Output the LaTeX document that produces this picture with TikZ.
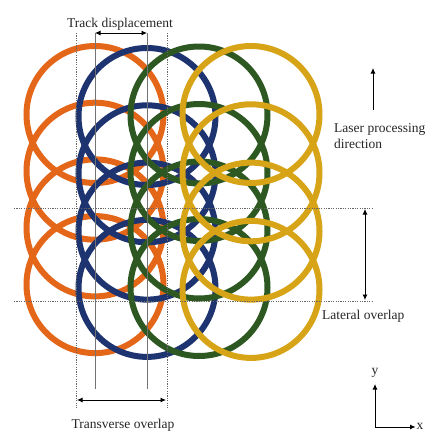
\documentclass[tikz,border=0pt]{standalone}
\usepackage{fontspec}
\setmainfont{Liberation Serif}
\usetikzlibrary{arrows.meta, positioning, calc}
\definecolor{trorange}{RGB}{228,102,24}
\definecolor{trblue}{RGB}{30,52,112}
\definecolor{trgreen}{RGB}{46,88,34}
\definecolor{tryellow}{RGB}{214,164,22}

\begin{document}
\begin{tikzpicture}[x=1pt, y=-1pt,
  track/.style={line width=6pt},
  guide/.style={black!55, line width=0.5pt},
  dotguide/.style={black!60, line width=0.6pt, dash pattern=on 1.2pt off 1.2pt},
  dim/.style={{Latex[length=5.5pt,width=5pt]}-{Latex[length=5.5pt,width=5pt]}, line width=0.8pt},
  arr/.style={-{Latex[length=5.5pt,width=5pt]}, line width=0.8pt},
  lbl/.style={font=\fontsize{13.5}{16}\selectfont, inner sep=0pt, text=black!85}
]
\fill[white] (0,0) rectangle (424,434);
\useasboundingbox (0,0) rectangle (424,434);

% tracks, four spots each
\foreach \col/\cx/\cy/\dy in {trorange/95/114.5/56.7, trblue/147/116.5/57.3, trgreen/199/115/57.5, tryellow/251/114.5/58.3}
  \foreach \r in {0,...,3}
    \draw[track, draw=\col] (\cx,{\cy+\r*\dy}) circle [radius=68.5];

% guide lines
\coordinate (orangeAxisTop) at (95,33);
\coordinate (orangeAxisBot) at (95,389);
\coordinate (blueAxisTop) at (147,33);
\coordinate (blueAxisBot) at (147,389);
\coordinate (blueEdgeTop) at (76,33);
\coordinate (blueEdgeBot) at (76,408);
\coordinate (orangeEdgeTop) at (167,33);
\coordinate (orangeEdgeBot) at (167,408);
\coordinate (latTopL) at (14,208);
\coordinate (latTopR) at (372,208);
\coordinate (latBotL) at (14,301);
\coordinate (latBotR) at (372,301);
\draw[guide] (orangeAxisTop) -- (orangeAxisBot);
\draw[guide] (blueAxisTop) -- (blueAxisBot);
\draw[dotguide] (blueEdgeTop) -- (blueEdgeBot);
\draw[dotguide] (orangeEdgeTop) -- (orangeEdgeBot);
\draw[dotguide] (latTopL) -- (latTopR);
\draw[dotguide] (latBotL) -- (latBotR);

% dimensions
\coordinate (transL) at (77,400);
\coordinate (transR) at (166,400);
\coordinate (latT) at (365,209);
\coordinate (latB) at (365,300);
\draw[dim] (orangeAxisTop) -- (blueAxisTop);
\draw[dim] (transL) -- (transR);
\draw[dim] (latT) -- (latB);

% laser direction and axes
\coordinate (laserFrom) at (373,110);
\coordinate (laserTo) at (373,68);
\coordinate (origin) at (375,427);
\coordinate (yEnd) at (375,384);
\coordinate (xEnd) at (415.5,427);
\draw[arr] (laserFrom) -- (laserTo);
\draw[arr] (origin) -- (yEnd);
\draw[arr] (origin) -- (xEnd);

% labels
\node[lbl, anchor=base] (trackLbl) at (120,27) {Track displacement};
\node[lbl, anchor=base] (transLbl) at (123,428) {Transverse overlap};
\node[lbl, anchor=base west] (latLbl) at (322,319) {Lateral overlap};
\node[lbl, anchor=north west, align=left] (laserLbl) at (334,123) {Laser processing\\direction};
\node[lbl] (yLbl) at (375,373) {y};
\node[lbl] (xLbl) at (420,426) {x};
\end{tikzpicture}
\end{document}
